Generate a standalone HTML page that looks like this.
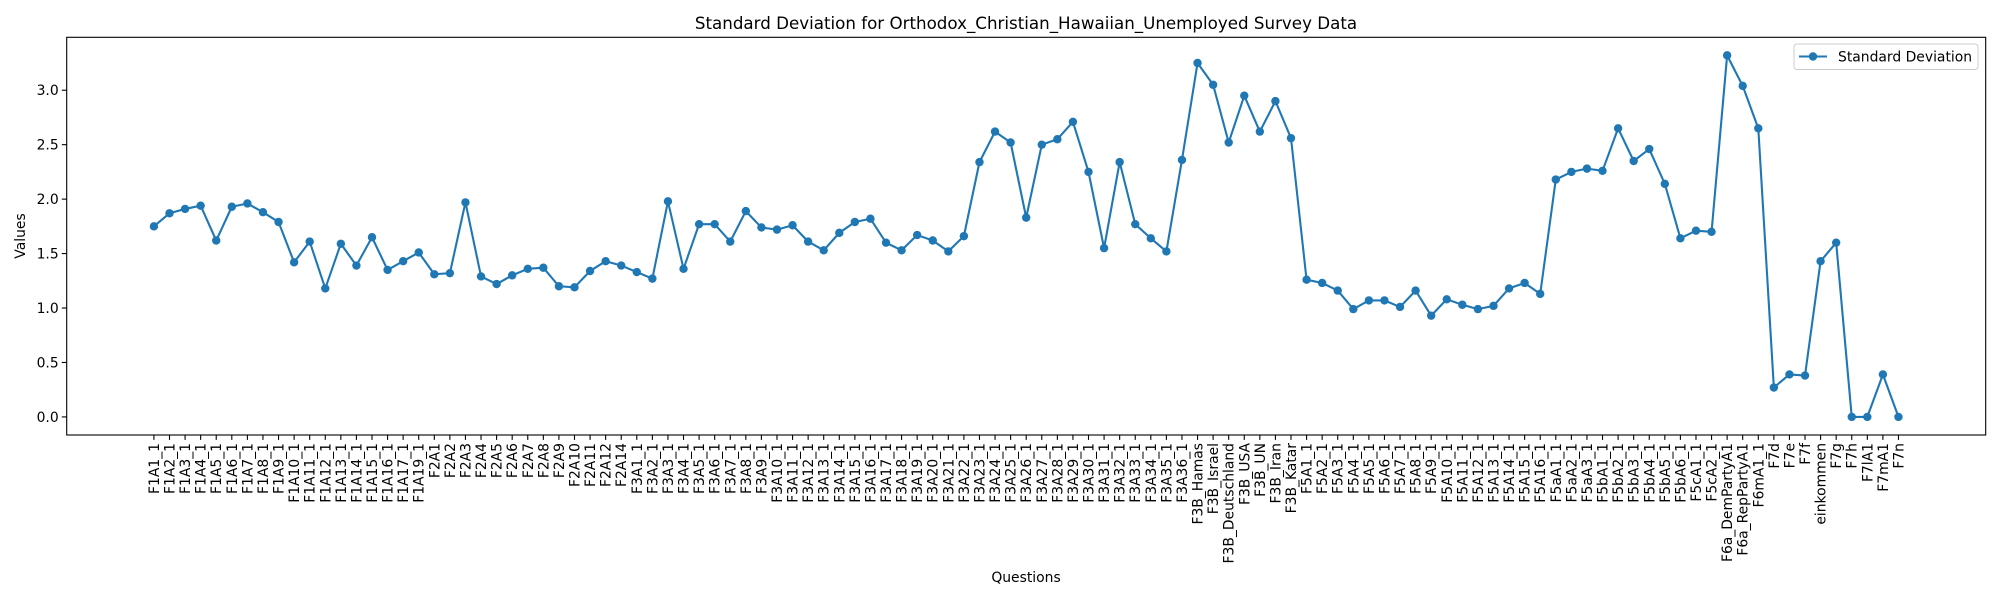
<!DOCTYPE html>
<html><head><meta charset="utf-8"><style>
html,body{margin:0;padding:0;background:#fff;}
svg{display:block;font-family:"DejaVu Sans","Liberation Sans",sans-serif;}
</style></head><body>
<svg id="chart" width="2000" height="600" viewBox="0 0 2000 600" xmlns="http://www.w3.org/2000/svg">
<rect width="2000" height="600" fill="#fff"/>
<text x="1026" y="29" text-anchor="middle" font-size="16.7" fill="#000">Standard Deviation for Orthodox_Christian_Hawaiian_Unemployed Survey Data</text>
<g id="yticks"></g>
<g id="xticks"></g>
<g id="series"></g>
<rect x="66.7" y="37.3" width="1919" height="397.7" fill="none" stroke="#000" stroke-width="1.1"/>
<text transform="translate(25,236) rotate(-90)" text-anchor="middle" font-size="13.9">Values</text>
<text x="1026" y="582" text-anchor="middle" font-size="13.9">Questions</text>
<g>
<rect x="1794" y="44" width="184" height="25.5" rx="3" fill="#fff" stroke="#ccc" stroke-width="1"/>
<line x1="1799" y1="56.5" x2="1827" y2="56.5" stroke="#1f77b4" stroke-width="2.1"/>
<circle cx="1813" cy="56.5" r="4.2" fill="#1f77b4"/>
<text x="1838" y="61.5" font-size="13.9">Standard Deviation</text>
</g>
</svg>
<script>
const categories = ["F1A1_1","F1A2_1","F1A3_1","F1A4_1","F1A5_1","F1A6_1","F1A7_1","F1A8_1","F1A9_1","F1A10_1","F1A11_1","F1A12_1","F1A13_1","F1A14_1","F1A15_1","F1A16_1","F1A17_1","F1A19_1",
"F2A1","F2A2","F2A3","F2A4","F2A5","F2A6","F2A7","F2A8","F2A9","F2A10","F2A11","F2A12","F2A14",
"F3A1_1","F3A2_1","F3A3_1","F3A4_1","F3A5_1","F3A6_1","F3A7_1","F3A8_1","F3A9_1","F3A10_1","F3A11_1","F3A12_1","F3A13_1","F3A14_1","F3A15_1","F3A16_1","F3A17_1","F3A18_1","F3A19_1","F3A20_1","F3A21_1","F3A22_1","F3A23_1","F3A24_1","F3A25_1","F3A26_1","F3A27_1","F3A28_1","F3A29_1","F3A30_1","F3A31_1","F3A32_1","F3A33_1","F3A34_1","F3A35_1","F3A36_1",
"F3B_Hamas","F3B_Israel","F3B_Deutschland","F3B_USA","F3B_UN","F3B_Iran","F3B_Katar",
"F5A1_1","F5A2_1","F5A3_1","F5A4_1","F5A5_1","F5A6_1","F5A7_1","F5A8_1","F5A9_1","F5A10_1","F5A11_1","F5A12_1","F5A13_1","F5A14_1","F5A15_1","F5A16_1",
"F5aA1_1","F5aA2_1","F5aA3_1","F5bA1_1","F5bA2_1","F5bA3_1","F5bA4_1","F5bA5_1","F5bA6_1","F5cA1_1","F5cA2_1",
"F6a_DemPartyA1","F6a_RepPartyA1","F6mA1_1","F7d","F7e","F7f","einkommen","F7g","F7h","F7lA1","F7mA1","F7n"];
const stdValues = [1.75,1.87,1.91,1.94,1.62,1.93,1.96,1.88,1.79,1.42,1.61,1.18,1.59,1.39,1.65,1.35,1.43,1.51,
1.31,1.32,1.97,1.29,1.22,1.30,1.36,1.37,1.20,1.19,1.34,1.43,1.39,
1.33,1.27,1.98,1.36,1.77,1.77,1.61,1.89,1.74,1.72,1.76,1.61,1.53,1.69,1.79,1.82,1.60,1.53,1.67,1.62,1.52,1.66,2.34,2.62,2.52,1.83,2.50,2.55,2.71,2.25,1.55,2.34,1.77,1.64,1.52,2.36,
3.25,3.05,2.52,2.95,2.62,2.90,2.56,
1.26,1.23,1.16,0.99,1.07,1.07,1.01,1.16,0.93,1.08,1.03,0.99,1.02,1.18,1.23,1.13,
2.18,2.25,2.28,2.26,2.65,2.35,2.46,2.14,1.64,1.71,1.70,
3.32,3.04,2.65,0.27,0.39,0.38,1.43,1.60,0.00,0.00,0.39,0.00];
const yTickLabels = ["0.0","0.5","1.0","1.5","2.0","2.5","3.0"];

const NS = "http://www.w3.org/2000/svg";
const L = 66.7, R = 1985.7, T = 37.3, B = 435;
const n = categories.length;
const xMin = -0.05 * (n - 1), xMax = (n - 1) * 1.05;
const dMax = Math.max(...stdValues), dMin = Math.min(...stdValues);
const pad = (dMax - dMin) * 0.05;
const yMin = dMin - pad, yMax = dMax + pad;
function xs(i){ return L + (i - xMin) / (xMax - xMin) * (R - L); }
function ys(v){ return B - (v - yMin) / (yMax - yMin) * (B - T); }
function mk(tag, attrs, parent){ const e = document.createElementNS(NS, tag); for (const k in attrs) e.setAttribute(k, attrs[k]); parent.appendChild(e); return e; }

const yg = document.getElementById("yticks");
yTickLabels.forEach(lbl => {
  const v = parseFloat(lbl), y = ys(v);
  const tk = mk("line", {x1: L - 4.9, x2: L, y1: y, y2: y, stroke: "#000", "stroke-width": 1.1}, yg);
  
  
  const t = mk("text", {x: L - 8, y: y + 5, "text-anchor": "end", "font-size": 13.9}, yg);
  
  
  t.textContent = lbl;
});

const xg = document.getElementById("xticks");
categories.forEach((c, i) => {
  const x = xs(i);
  const tk = mk("line", {x1: x, x2: x, y1: B, y2: B + 4.9, stroke: "#000", "stroke-width": 1.1}, xg);
  
  
  const t = mk("text", {transform: `translate(${x + 5},${B + 8}) rotate(-90)`, "text-anchor": "end", "font-size": 13.9}, xg);
  
  
  t.textContent = c;
});

const sg = document.getElementById("series");
const pts = stdValues.map((v, i) => xs(i).toFixed(2) + "," + ys(v).toFixed(2)).join(" ");
const pl = mk("polyline", {points: pts, fill: "none", stroke: "#1f77b4", "stroke-width": 2.1, "stroke-linejoin": "round"}, sg);


stdValues.forEach((v, i) => {
  const c = mk("circle", {cx: xs(i), cy: ys(v), r: 4.2, fill: "#1f77b4"}, sg);
  
  
});
</script>
</body></html>
